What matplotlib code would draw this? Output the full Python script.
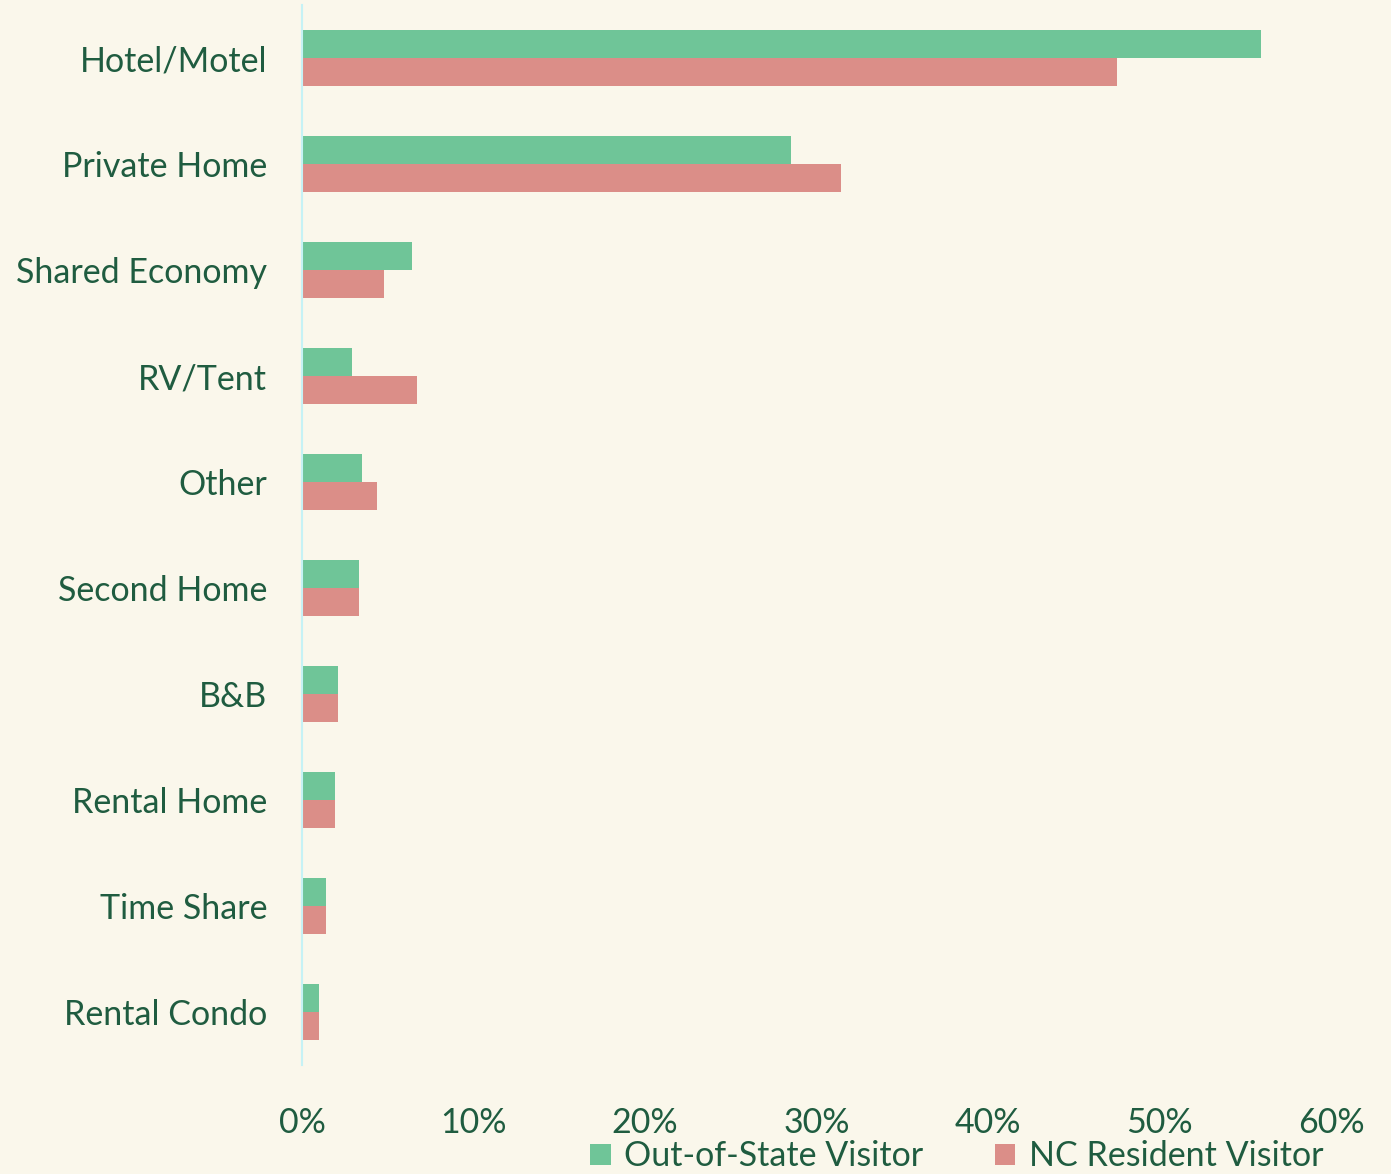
import numpy as np
import matplotlib.pyplot as plt

categories = ["Hotel/Motel", "Private Home", "Shared Economy", "RV/Tent", "Other",
              "Second Home", "B&B", "Rental Home", "Time Share", "Rental Condo"]
out_of_state = [55.9, 28.5, 6.4, 2.9, 3.5, 3.3, 2.1, 1.9, 1.4, 1.0]
nc_resident = [47.5, 31.4, 4.8, 6.7, 4.4, 3.3, 2.1, 1.9, 1.4, 1.0]
ticks = [0, 10, 20, 30, 40, 50, 60]

bg = "#FAF7EB"
txt = "#1F5C40"
green = "#6FC598"
red = "#DB8E88"

plt.rcParams['font.family'] = ['Lato', 'DejaVu Sans']

fig = plt.figure(figsize=(13.91, 11.74), dpi=100, facecolor=bg)
ax = fig.add_axes([0.2171, 0.0928, 0.7398, 0.9029], facecolor=bg)

y = np.arange(len(categories))
h = 0.264
ax.barh(y - h / 2, out_of_state, height=h, color=green, label="Out-of-State Visitor")
ax.barh(y + h / 2, nc_resident, height=h, color=red, label="NC Resident Visitor")

ax.set_ylim(len(categories) - 0.5, -0.5)
ax.set_xlim(0, 60)
ax.set_yticks(y)
ax.set_yticklabels(categories)
ax.set_xticks(ticks)
ax.set_xticklabels([f"{t}%" for t in ticks])
ax.tick_params(axis='both', length=0, labelsize=24.5, labelcolor=txt)
ax.tick_params(axis='y', pad=25)
ax.tick_params(axis='x', pad=30)

for s in ['top', 'right', 'bottom']:
    ax.spines[s].set_visible(False)
ax.spines['left'].set_color("#C6F2F5")
ax.spines['left'].set_linewidth(1.5)

leg = fig.legend(loc='center', bbox_to_anchor=(0.688, 0.015), ncol=2, frameon=False,
                 fontsize=24.5, handlelength=0.6, handleheight=0.6, handletextpad=0.4,
                 columnspacing=2.1, labelcolor=txt, borderpad=0.1)

fig.savefig("out.png", dpi=100, facecolor=bg)
